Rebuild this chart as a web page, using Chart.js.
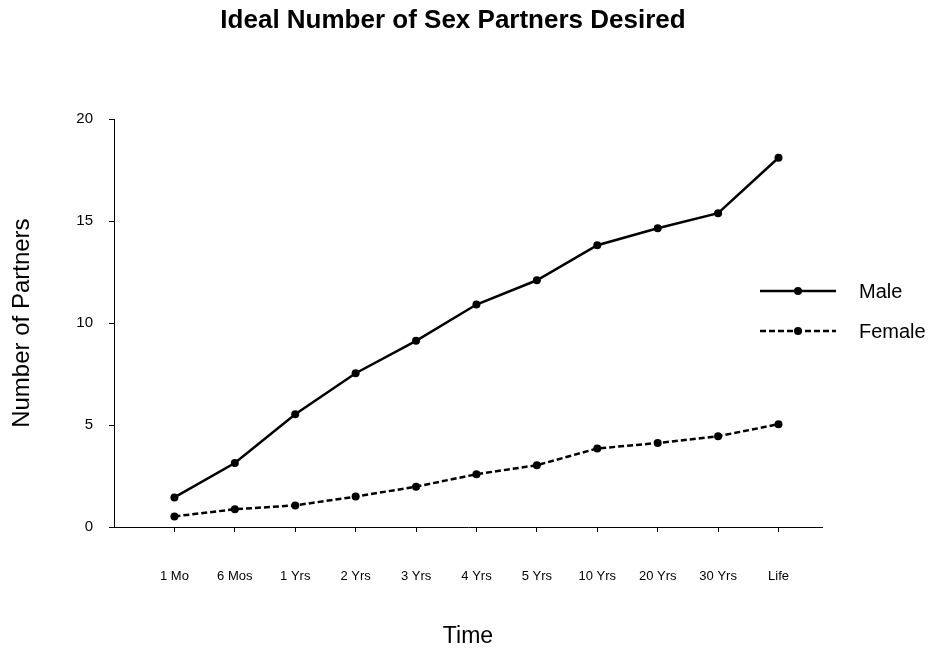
<!DOCTYPE html>
<html>
<head>
<meta charset="utf-8">
<title>Ideal Number of Sex Partners Desired</title>
<script src="https://cdn.jsdelivr.net/npm/chart.js@4"></script>
<style>
  html, body { margin: 0; padding: 0; background: #fff; }
  #wrap { width: 932px; height: 650px; }
</style>
</head>
<body>
<div id="wrap"><canvas id="grafico" width="932" height="650"></canvas></div>
<script>
  // dados
  const categories = ['1 Mo', '6 Mos', '1 Yrs', '2 Yrs', '3 Yrs', '4 Yrs', '5 Yrs', '10 Yrs', '20 Yrs', '30 Yrs', 'Life'];
  const maleValues = [1.45, 3.14, 5.53, 7.54, 9.13, 10.91, 12.1, 13.82, 14.65, 15.39, 18.11];
  const femaleValues = [0.52, 0.87, 1.06, 1.49, 1.98, 2.59, 3.03, 3.85, 4.12, 4.45, 5.04];
  const yTicks = [0, 5, 10, 15, 20];

  const FONT = "'Liberation Sans', Arial, sans-serif";

  // legenda desenhada à mão (linha + ponto no meio)
  const legendaPlugin = {
    id: 'legendaLinhas',
    afterDraw(chart) {
      const ctx = chart.ctx;
      const rows = [291, 331];
      chart.data.datasets.forEach((ds, i) => {
        const y = rows[i];
        ctx.save();
        ctx.strokeStyle = ds.borderColor;
        ctx.lineWidth = ds.borderWidth;
        ctx.setLineDash(ds.borderDash || []);
        ctx.beginPath();
        ctx.moveTo(760, y);
        ctx.lineTo(836, y);
        ctx.stroke();
        ctx.setLineDash([]);
        ctx.fillStyle = ds.pointBackgroundColor;
        ctx.beginPath();
        ctx.arc(798, y, ds.pointRadius, 0, Math.PI * 2);
        ctx.fill();
        ctx.fillStyle = '#000';
        ctx.font = '20px ' + FONT;
        ctx.textBaseline = 'middle';
        ctx.textAlign = 'left';
        ctx.fillText(ds.label, 859, y + 1);
        ctx.restore();
      });
    }
  };

  const ctx = document.getElementById('grafico').getContext('2d');
  new Chart(ctx, {
    type: 'line',
    data: {
      datasets: [{
        label: 'Male',
        data: maleValues.map((v, i) => ({ x: i + 1, y: v })),
        borderColor: '#000',
        borderWidth: 2.5,
        pointRadius: 4,
        pointBackgroundColor: '#000',
        pointBorderWidth: 0,
        tension: 0
      }, {
        label: 'Female',
        data: femaleValues.map((v, i) => ({ x: i + 1, y: v })),
        borderColor: '#000',
        borderWidth: 2.5,
        borderDash: [6, 3],
        pointRadius: 4,
        pointBackgroundColor: '#000',
        pointBorderWidth: 0,
        tension: 0
      }]
    },
    options: {
      responsive: false,
      animation: false,
      layout: { padding: { left: 0, right: 26, top: 0, bottom: 0 } },
      scales: {
        x: {
          type: 'linear',
          min: 0,
          max: 11.72,
          afterBuildTicks: scale => {
            scale.ticks = categories.map((c, i) => ({ value: i + 1 }));
          },
          afterFit: scale => { scale.height = 123; },
          grid: { drawOnChartArea: false, drawTicks: true, tickLength: 5, color: '#000' },
          border: { color: '#000', width: 1 },
          ticks: {
            color: '#000',
            font: { family: FONT, size: 13 },
            padding: 37,
            maxRotation: 0,
            autoSkip: false,
            callback: v => categories[v - 1]
          },
          title: {
            display: true,
            text: 'Time',
            color: '#000',
            font: { family: FONT, size: 23 },
            padding: { top: 0, bottom: 0 }
          }
        },
        y: {
          min: 0,
          max: 20,
          afterBuildTicks: scale => {
            scale.ticks = yTicks.map(v => ({ value: v }));
          },
          afterFit: scale => { scale.width = 114; },
          grid: { drawOnChartArea: false, drawTicks: true, tickLength: 5, color: '#000' },
          border: { color: '#000', width: 1 },
          ticks: {
            color: '#000',
            font: { family: FONT, size: 15 },
            padding: 16
          },
          title: {
            display: true,
            text: 'Number of Partners',
            color: '#000',
            font: { family: FONT, size: 24 },
            padding: { top: 8, bottom: 0 }
          }
        },
        // eixo vazio só para reservar espaço da legenda à direita
        espaco: {
          type: 'linear',
          position: 'right',
          display: true,
          afterFit: scale => { scale.width = 84; },
          grid: { display: false },
          border: { display: false },
          ticks: { display: false }
        }
      },
      plugins: {
        legend: { display: false },
        tooltip: { enabled: false },
        title: {
          display: true,
          text: 'Ideal Number of Sex Partners Desired',
          color: '#000',
          font: { family: FONT, size: 26, weight: 'bold' },
          padding: { top: 5, bottom: 83 },
          align: 'center',
          fullSize: true
        }
      }
    },
    plugins: [legendaPlugin]
  });
</script>
</body>
</html>
